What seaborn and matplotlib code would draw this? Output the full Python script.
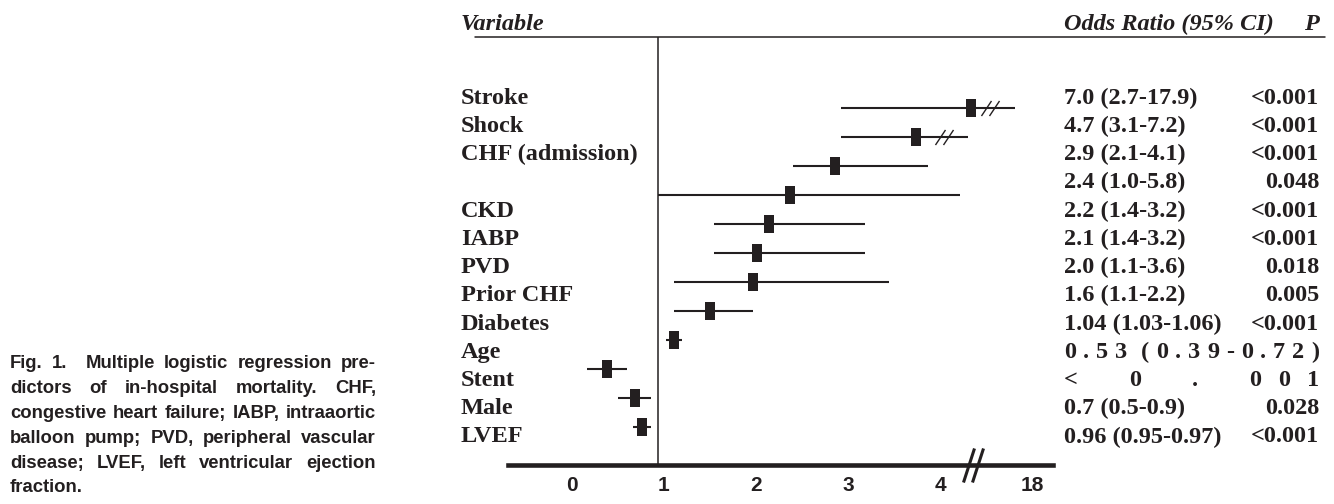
import numpy as np
import pandas as pd
import seaborn as sns
import matplotlib.pyplot as plt
from matplotlib.path import Path
from matplotlib.lines import Line2D
from matplotlib.transforms import ScaledTranslation, blended_transform_factory

# ---- values ----
labels = ['Stroke', 'Shock', 'CHF (admission)', '', 'CKD', 'IABP', 'PVD',
          'Prior CHF', 'Diabetes', 'Age', 'Stent', 'Male', 'LVEF']
or_text = ['7.0 (2.7-17.9)', '4.7 (3.1-7.2)', '2.9 (2.1-4.1)', '2.4 (1.0-5.8)',
           '2.2 (1.4-3.2)', '2.1 (1.4-3.2)', '2.0 (1.1-3.6)', '1.6 (1.1-2.2)',
           '1.04 (1.03-1.06)', '0 . 5 3  ( 0 . 3 9 - 0 . 7 2 )',
           '<   0   .   0 0 1', '0.7 (0.5-0.9)', '0.96 (0.95-0.97)']
p_text = ['<0.001', '<0.001', '<0.001', '0.048', '<0.001', '<0.001', '0.018',
          '0.005', '<0.001', '', '', '0.028', '<0.001']

# markers as drawn (axis units, values past 4 sit beyond the break)
est = [4.40, 3.80, 2.92, 2.43, 2.21, 2.08, 2.03, 1.57, 1.17, 0.45, 0.75, 0.83]
ci_lo = [2.99, 2.99, 2.47, 1.00, 1.61, 1.61, 1.17, 1.17, 1.09, 0.23, 0.57, 0.73]
ci_hi = [4.88, 4.37, 3.93, 4.28, 3.25, 3.25, 3.51, 2.03, 1.26, 0.66, 0.92, 0.92]
cut_at = [4.61, 4.11]          # '//' on the Stroke and Shock CIs
tick_pos = [0, 1, 2, 3, 4, 5]
tick_lab = ['0', '1', '2', '3', '4', '18']
axis_break = 4.42

caption = ['Fig. 1.  Multiple logistic regression pre-',
           'dictors of in-hospital mortality. CHF,',
           'congestive heart failure; IABP, intraaortic',
           'balloon pump; PVD, peripheral vascular',
           'disease; LVEF, left ventricular ejection',
           'fraction.']

W, H = 1334, 504
ink = '#231f20'
sns.set_theme(style='white')

fig = plt.figure(figsize=(W / 100, H / 100), dpi=100)
fx = lambda px: px / W
fy = lambda py: 1 - py / H

ax = fig.add_axes([fx(508), fy(465), (1053 - 508) / W, (465 - 37) / H])

df = pd.DataFrame({'row': np.arange(len(est)), 'est': est, 'lo': ci_lo, 'hi': ci_hi})
ax.hlines(df.row, df.lo, df.hi, color=ink, lw=1.5)

box = Path([(-4.5, -8.5), (4.5, -8.5), (4.5, 8.5), (-4.5, 8.5), (-4.5, -8.5)], closed=True)
sns.scatterplot(data=df, x='est', y='row', marker=box, s=155, color=ink,
                linewidth=0, legend=False, ax=ax, zorder=3)

two = [Path.MOVETO, Path.LINETO, Path.MOVETO, Path.LINETO]
slash = Path([(-9, -7.5), (1, 7.5), (-1, -7.5), (9, 7.5)], two)
ax.plot(cut_at, [0, 1], ls='none', marker=slash, ms=13, mfc='none', mec=ink, mew=1.0)

big = Path([(-10, -17), (1, 17), (-1, -17), (10, 17)], two)
ax.plot([axis_break], [0], ls='none', marker=big, ms=24.5, mfc='none', mec=ink, mew=2.2,
        transform=blended_transform_factory(ax.transData, ax.transAxes),
        clip_on=False, zorder=5)

ax.axvline(1, color=ink, lw=1.1)
ax.set_xlim(-0.630, 5.293)
ax.set_ylim((465 - 108) / 29, (37 - 108) / 29)
ax.set(xlabel='', ylabel='', yticks=[])
for s in ['top', 'right', 'left']:
    ax.spines[s].set_visible(False)
ax.spines['bottom'].set_linewidth(3.3)
ax.spines['bottom'].set_color(ink)
ax.set_xticks(tick_pos, tick_lab)
ax.tick_params(axis='x', length=0, pad=8, labelsize=15, colors=ink)
shift = ScaledTranslation(6 / 100, 0, fig.dpi_scale_trans)
for t in ax.get_xticklabels():
    t.set_family('Liberation Sans')
    t.set_weight('bold')
    t.set_transform(t.get_transform() + shift)

fig.add_artist(Line2D([fx(475), fx(1325)], [fy(37), fy(37)], color=ink, lw=1.1,
                      transform=fig.transFigure))

serif = dict(family='Liberation Serif', weight='bold', size=17.5, color=ink, va='center')
sans = dict(family='Liberation Sans', weight='bold', size=13.3, color=ink, va='center')
renderer = fig.canvas.get_renderer()


def justify(line, x0, x1, y, **kw):
    arts = [fig.text(0, fy(y), w, **kw) for w in line.split(' ')]
    widths = [a.get_window_extent(renderer).width for a in arts]
    gap = (x1 - x0 - sum(widths)) / (len(arts) - 1)
    x = x0
    for a, w in zip(arts, widths):
        a.set_x(fx(x))
        x += w + gap


fig.text(fx(461), fy(24), 'Variable', style='italic', **serif)
fig.text(fx(1064), fy(24), 'Odds Ratio (95% CI)', style='italic', **serif)
fig.text(fx(1319), fy(24), 'P', style='italic', ha='right', **serif)

row_y = np.linspace(98, 437, len(labels))
for y, lab, o, p in zip(row_y, labels, or_text, p_text):
    fig.text(fx(461), fy(y), lab, **serif)
    if p:
        fig.text(fx(1064), fy(y), o, **serif)
        fig.text(fx(1319), fy(y), p, ha='right', **serif)
    else:
        justify(o, 1064, 1319, y, **serif)

cap_y = np.linspace(364, 488, len(caption))
for y, line in zip(cap_y[:-1], caption[:-1]):
    justify(line, 10, 376, y, **sans)
fig.text(fx(10), fy(cap_y[-1]), caption[-1], **sans)

fig.savefig('out.png', dpi=100)
